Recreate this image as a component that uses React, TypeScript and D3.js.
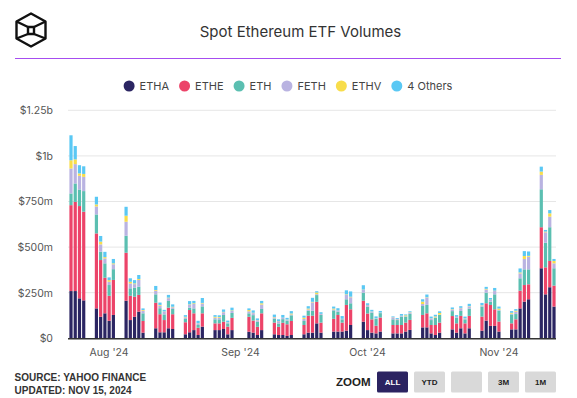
import React, { useMemo } from "react";
import * as d3 from "d3";

const dates = [
  "2024-07-23","2024-07-24","2024-07-25","2024-07-26",
  "2024-07-29","2024-07-30","2024-07-31","2024-08-01","2024-08-02",
  "2024-08-05","2024-08-06","2024-08-07","2024-08-08","2024-08-09",
  "2024-08-12","2024-08-13","2024-08-14","2024-08-15","2024-08-16",
  "2024-08-19","2024-08-20","2024-08-21","2024-08-22","2024-08-23",
  "2024-08-26","2024-08-27","2024-08-28","2024-08-29","2024-08-30",
  "2024-09-03","2024-09-04","2024-09-05","2024-09-06",
  "2024-09-09","2024-09-10","2024-09-11","2024-09-12","2024-09-13",
  "2024-09-16","2024-09-17","2024-09-18","2024-09-19","2024-09-20",
  "2024-09-23","2024-09-24","2024-09-25","2024-09-26","2024-09-27",
  "2024-09-30","2024-10-01","2024-10-02","2024-10-03","2024-10-04",
  "2024-10-07","2024-10-08","2024-10-09","2024-10-10","2024-10-11",
  "2024-10-14","2024-10-15","2024-10-16","2024-10-17","2024-10-18",
  "2024-10-21","2024-10-22","2024-10-23","2024-10-24","2024-10-25",
  "2024-10-28","2024-10-29","2024-10-30","2024-10-31","2024-11-01",
  "2024-11-04","2024-11-05","2024-11-06","2024-11-07","2024-11-08",
  "2024-11-11","2024-11-12","2024-11-13","2024-11-14",
];

// values in $ millions
const etha = [
  259,259,219,208,
  164,118,137,96,128,
  206,100,118,146,31,
  55,33,33,55,51,
  22,33,45,18,64,
  45,45,51,22,45,
  36,31,18,45,
  22,18,18,13,18,
  22,31,31,82,31,
  37,37,37,42,73,
  91,45,31,27,37,
  27,27,27,37,46,
  60,60,27,18,31,
  49,31,55,27,55,
  42,97,68,68,37,
  49,49,164,201,214,
  384,241,280,174,
];
const ethe = [
  471,489,506,486,
  411,311,195,137,192,
  263,133,110,92,64,
  140,99,67,113,81,
  66,122,92,40,73,
  37,37,40,42,67,
  82,66,45,92,
  64,45,67,64,77,
  51,93,93,118,55,
  70,91,49,141,86,
  115,91,73,42,77,
  46,46,46,49,55,
  68,77,46,55,55,
  73,51,68,55,68,
  77,95,115,91,55,
  33,55,97,91,82,
  225,148,144,115,
];
const eth = [
  64,101,91,113,
  104,46,79,59,59,
  93,41,49,45,42,
  46,33,31,37,29,
  18,13,27,15,38,
  22,22,37,18,27,
  19,30,27,24,
  22,18,20,20,31,
  22,27,27,37,42,
  46,18,18,31,33,
  44,37,37,37,24,
  31,27,46,33,33,
  49,46,27,40,42,
  27,31,27,22,40,
  55,58,18,82,60,
  49,29,68,86,82,
  208,135,185,95,
];
const feth = [
  137,106,75,78,
  44,40,27,18,27,
  77,27,20,37,14,
  20,14,14,15,9,
  9,15,24,9,16,
  9,9,15,5,11,
  11,11,9,24,
  7,13,7,5,5,
  11,7,46,5,5,
  5,5,2,24,33,
  15,9,5,2,2,
  11,5,4,2,7,
  11,40,9,2,2,
  9,4,15,5,11,
  5,18,9,18,4,
  4,13,27,57,69,
  79,57,58,27,
];
const ethv = [
  45,26,13,16,
  11,15,7,9,5,
  33,9,4,5,4,
  4,4,2,3,3,
  3,3,4,1,3,
  5,4,2,1,3,
  7,2,1,7,
  2,1,1,1,5,
  7,5,3,9,1,
  5,1,1,3,3,
  2,1,1,1,1,
  1,1,1,5,2,
  13,2,1,5,9,
  2,1,2,1,2,
  2,3,2,2,7,
  5,5,5,16,5,
  18,4,18,13,
];
const others = [
  137,73,45,42,
  42,31,29,15,24,
  49,19,18,22,9,
  22,13,9,15,13,
  9,18,13,13,27,
  9,9,13,9,15,
  9,13,9,13,
  13,9,15,9,13,
  11,13,22,7,9,
  11,13,15,22,29,
  24,9,9,11,9,
  4,5,9,5,5,
  13,15,9,9,9,
  9,9,9,9,13,
  13,11,9,15,11,
  9,9,22,27,24,
  27,9,18,11,
];

const seriesKeys = ["ETHA", "ETHE", "ETH", "FETH", "ETHV", "4 Others"];
const seriesValues = [etha, ethe, eth, feth, ethv, others];
const seriesColors = ["#2b2562", "#ec4469", "#5bbfb1", "#b9b3e1", "#f8dd4b", "#5ac8f4"];

const yTickValues = [0, 250, 500, 750, 1000, 1250];
const yTickLabels = ["$0", "$250m", "$500m", "$750m", "$1b", "$1.25b"];
const xTickDates = ["2024-08-01", "2024-09-01", "2024-10-01", "2024-11-01"];
const xTickLabels = ["Aug '24", "Sep '24", "Oct '24", "Nov '24"];
const zoomButtons = ["ALL", "YTD", "", "3M", "1M"];

const W = 577;
const H = 398;
const FONT = "Inter, 'Noto Sans', sans-serif";
const BOLD = "'Liberation Sans', Arial, sans-serif";

function measure(text: string, font: string): number {
  const c = document.createElement("canvas").getContext("2d");
  if (!c) return text.length * 7;
  c.font = font;
  return c.measureText(text).width;
}

export default function App() {
  const parse = d3.timeParse("%Y-%m-%d");
  const rows = useMemo(
    () =>
      dates.map((d, i) => {
        const r: any = { date: parse(d) };
        seriesKeys.forEach((k, j) => (r[k] = seriesValues[j][i]));
        return r;
      }),
    []
  );
  const stacked = d3.stack<any>().keys(seriesKeys)(rows);

  const x = d3
    .scaleTime()
    .domain([parse(dates[0]) as Date, parse(dates[dates.length - 1]) as Date])
    .range([71, 554]);
  const y = d3.scaleLinear().domain([0, 1250]).range([338.3, 110.3]);
  const plotLeft = 68;
  const plotRight = 556;
  const barW = 3.2;

  // legend layout
  const legFontSize = 11;
  const legFont = `${legFontSize}px ${FONT}`;
  const r = 5.5;
  const gapText = 5;
  const gapItem = 10;
  const widths = seriesKeys.map((k) => measure(k, legFont));
  const itemW = widths.map((w) => 2 * r + gapText + w);
  const totalW = itemW.reduce((a, b) => a + b, 0) + gapItem * (seriesKeys.length - 1);
  let cx = 288 - totalW / 2;
  const legendItems = seriesKeys.map((k, i) => {
    const start = cx;
    cx += itemW[i] + gapItem;
    return { key: k, x: start, color: seriesColors[i] };
  });

  // zoom buttons
  const btnW = 31;
  const btnGap = 6;
  const btnX0 = 377;

  return (
    <div style={{ position: "fixed", left: 0, top: 0, width: W, height: H, background: "#fff" }}>
      <svg width={W} height={H} style={{ display: "block" }}>
        <rect x={0} y={0} width={W} height={H} fill="#fff" />
        {/* logo */}
        <g fill="none" stroke="#111" strokeWidth={2.4} strokeLinejoin="round">
          <path d="M31,13.5 L45.5,21.5 L45.5,38.5 L31,46.5 L16.5,38.5 L16.5,21.5 Z" />
          <path d="M28,27 L34,27 L34,34 L28,34 Z" />
          <path d="M16.5,21.5 L28,27 M45.5,21.5 L34,27 M16.5,38.5 L28,34 M45.5,38.5 L34,34" />
        </g>
        <text x={300.5} y={37} textAnchor="middle" fontFamily={FONT} fontSize={15} fill="#333">
          Spot Ethereum ETF Volumes
        </text>
        <line x1={15} x2={561} y1={58.5} y2={58.5} stroke="#a64df0" strokeWidth={1.2} />

        {/* legend */}
        {legendItems.map((it) => (
          <g key={it.key}>
            <circle cx={it.x + r} cy={86} r={r} fill={it.color} />
            <text x={it.x + 2 * r + gapText} y={89.9} fontFamily={FONT} fontSize={legFontSize} fill="#444">
              {it.key}
            </text>
          </g>
        ))}

        {/* grid & y axis */}
        {yTickValues.map((v, i) => (
          <g key={v}>
            {v > 0 && (
              <line x1={plotLeft} x2={plotRight} y1={y(v)} y2={y(v)} stroke="#e6e6e6" strokeWidth={1} />
            )}
            <text x={53} y={y(v) + 3.8} textAnchor="end" fontFamily={FONT} fontSize={10.5} fill="#555">
              {yTickLabels[i]}
            </text>
          </g>
        ))}

        {/* bars */}
        {stacked.map((s, si) => (
          <g key={s.key} fill={seriesColors[si]}>
            {s.map((d, i) => (
              <rect
                key={i}
                x={x(d.data.date) - barW / 2}
                y={y(d[1])}
                width={barW}
                height={Math.max(0, y(d[0]) - y(d[1]))}
              />
            ))}
          </g>
        ))}

        <line x1={plotLeft} x2={plotRight} y1={338.8} y2={338.8} stroke="#333" strokeWidth={1.5} />

        {/* x axis labels */}
        {xTickDates.map((d, i) => (
          <text
            key={d}
            x={x(parse(d) as Date)}
            y={356}
            textAnchor="middle"
            fontFamily={FONT}
            fontSize={10.5}
            fill="#555"
          >
            {xTickLabels[i]}
          </text>
        ))}

        {/* footer */}
        <text x={14.5} y={380.5} fontFamily={BOLD} fontWeight="bold" fontSize={10} fill="#333">
          SOURCE: YAHOO FINANCE
        </text>
        <text x={14.5} y={394} fontFamily={BOLD} fontWeight="bold" fontSize={10} fill="#333">
          UPDATED: NOV 15, 2024
        </text>
        <text x={336} y={385.5} fontFamily={BOLD} fontWeight="bold" fontSize={11.5} fill="#222">
          ZOOM
        </text>
        {zoomButtons.map((b, i) => {
          const bx = btnX0 + i * (btnW + btnGap);
          const active = i === 0;
          return (
            <g key={i}>
              <rect x={bx} y={371.5} width={btnW} height={21} rx={1.5} fill={active ? "#2b2361" : "#d9d9d9"} />
              <text
                x={bx + btnW / 2}
                y={385}
                textAnchor="middle"
                fontFamily={BOLD}
                fontWeight="bold"
                fontSize={8}
                fill={active ? "#fff" : "#222"}
              >
                {b}
              </text>
            </g>
          );
        })}
      </svg>
    </div>
  );
}
